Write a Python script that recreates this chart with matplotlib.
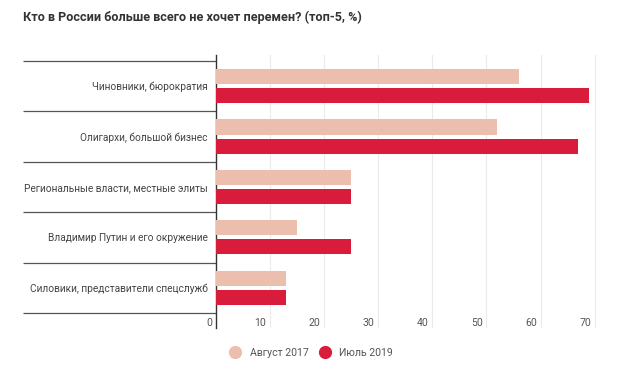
import matplotlib
matplotlib.use("Agg")
import matplotlib.pyplot as plt
from matplotlib.lines import Line2D
import numpy as np

# данные (топ-5, %)
categories = [
    "Чиновники, бюрократия",
    "Олигархи, большой бизнес",
    "Региональные власти, местные элиты",
    "Владимир Путин и его окружение",
    "Силовики, представители спецслужб",
]
aug_2017 = [56, 52, 25, 15, 13]
jul_2019 = [69, 67, 25, 25, 13]
series_names = ["Август 2017", "Июль 2019"]
x_ticks = [0, 10, 20, 30, 40, 50, 60, 70]

C_AUG = "#EBBEAD"
C_JUL = "#D91C3C"

plt.rcParams["font.family"] = ["Roboto", "DejaVu Sans"]

fig = plt.figure(figsize=(6.2, 3.78), dpi=100)
ax = fig.add_axes([216 / 620, 50 / 378, 384 / 620, 273 / 378])

y = np.arange(len(categories))
ax.barh(y - 0.19, aug_2017, height=0.30, color=C_AUG, zorder=3)
ax.barh(y + 0.19, jul_2019, height=0.30, color=C_JUL, zorder=3)

ax.set_xlim(0, 71)
ax.set_ylim(4.8, -0.62)

# вертикальная сетка
for v in x_ticks[1:]:
    ax.axvline(v, color="#EBEBEB", lw=0.8, zorder=1)
# подписи оси X
for v in x_ticks:
    ax.text(v - 0.7, 4.7, str(v), ha="right", va="center",
            fontsize=7.6, color="#555555")

# длинные засечки-разделители между категориями
ax.set_yticks(np.arange(len(categories) + 1) - 0.5)
ax.set_yticklabels([])
ax.tick_params(axis="y", which="major", length=139, width=0.9, color="#555555")
ax.set_yticks(y, minor=True)
ax.set_yticklabels(categories, minor=True, fontsize=7.3, color="#444444")
ax.tick_params(axis="y", which="minor", length=0, pad=6)

ax.set_xticks([])
for s in ["top", "right", "bottom"]:
    ax.spines[s].set_visible(False)
ax.spines["left"].set_color("#333333")
ax.spines["left"].set_linewidth(1.0)

fig.text(23 / 620, 1 - 17 / 378, "Кто в России больше всего не хочет перемен? (топ-5, %)",
         fontsize=9.1, fontweight="bold", color="#333333", va="center", ha="left")

handles = [Line2D([], [], marker="o", ls="", markersize=8.5, color=C_AUG),
           Line2D([], [], marker="o", ls="", markersize=8.5, color=C_JUL)]
fig.legend(handles, series_names, loc="center", bbox_to_anchor=(309 / 620, 1 - 353 / 378),
           ncol=2, frameon=False, fontsize=7.6, handletextpad=0.4, columnspacing=0.5,
           labelcolor="#555555")

fig.savefig("out.png", dpi=100)
